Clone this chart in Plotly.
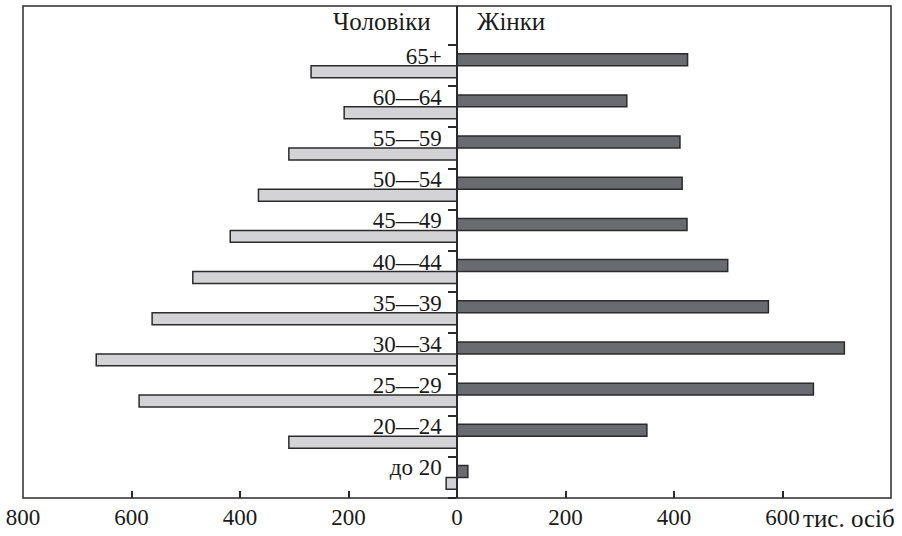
import plotly.graph_objects as go

age_groups = ["до 20", "20—24", "25—29", "30—34", "35—39", "40—44",
              "45—49", "50—54", "55—59", "60—64", "65+"]
men = [20, 310, 586, 665, 562, 487, 418, 366, 310, 208, 269]
women = [20, 350, 657, 714, 574, 499, 424, 415, 411, 313, 425]
x_tick_values = [-800, -600, -400, -200, 0, 200, 400, 600]
x_tick_text = ["800", "600", "400", "200", "0", "200", "400", "600"]
unit_label = "тис. осіб"
men_title = "Чоловіки"
women_title = "Жінки"

FONT = "Liberation Serif"
line_col = "#2b2b2b"
NUM_SIZE = 23
WORD_SIZE = 25

fig = go.Figure()
fig.add_trace(go.Bar(
    y=age_groups, x=[-v for v in men], orientation="h", name=men_title,
    marker=dict(color="#d3d3d5", line=dict(color=line_col, width=1.5)),
))
fig.add_trace(go.Bar(
    y=age_groups, x=women, orientation="h", name=women_title,
    marker=dict(color="#6a6b6f", line=dict(color=line_col, width=1.5)),
))

fig.update_layout(
    barmode="group", bargap=0.42, bargroupgap=0,
    showlegend=False,
    plot_bgcolor="white", paper_bgcolor="white",
    margin=dict(l=23, r=11, t=6, b=38),
    font=dict(family=FONT, size=NUM_SIZE, color="#1a1a1a"),
    xaxis=dict(
        range=[-800, 800], tickvals=x_tick_values, ticktext=x_tick_text,
        ticks="inside", ticklen=7, tickwidth=1.6, tickcolor=line_col,
        showgrid=False, zeroline=False, showline=False,
        ticklabelstandoff=3, ticklabelshift=0, ticklabeloverflow="allow",
        tickfont=dict(family=FONT, size=NUM_SIZE),
    ),
    yaxis=dict(
        type="category", range=[-0.5, 11.45],
        anchor="free", position=0.5,
        showline=True, linecolor=line_col, linewidth=1.5,
        ticks="outside", ticklen=8, tickwidth=1.5, tickcolor=line_col,
        tickson="boundaries",
        ticklabelshift=-10, ticklabelstandoff=10,
        showgrid=False, zeroline=False,
        tickfont=dict(family=FONT, size=NUM_SIZE),
    ),
    shapes=[dict(type="rect", xref="paper", yref="paper", x0=0, x1=1, y0=0, y1=1,
                 line=dict(color=line_col, width=1.5), layer="above")],
    annotations=[
        dict(text=men_title, xref="x", yref="paper", x=0, y=1, xanchor="right",
             yanchor="top", xshift=-24, yshift=0, showarrow=False,
             font=dict(family=FONT, size=WORD_SIZE)),
        dict(text=women_title, xref="x", yref="paper", x=0, y=1, xanchor="left",
             yanchor="top", xshift=18, yshift=0, showarrow=False,
             font=dict(family=FONT, size=WORD_SIZE)),
        dict(text=unit_label, xref="x", yref="paper", x=600, y=0, xanchor="left",
             yanchor="top", xshift=18, yshift=-5, showarrow=False,
             font=dict(family=FONT, size=WORD_SIZE)),
    ],
)

post = ("document.documentElement.style.margin='0';"
        "document.body.style.margin='0';"
        "Plotly.Plots.resize(document.getElementById('{plot_id}'));")
fig.write_html("out.html", post_script=post, config={"displayModeBar": False})
